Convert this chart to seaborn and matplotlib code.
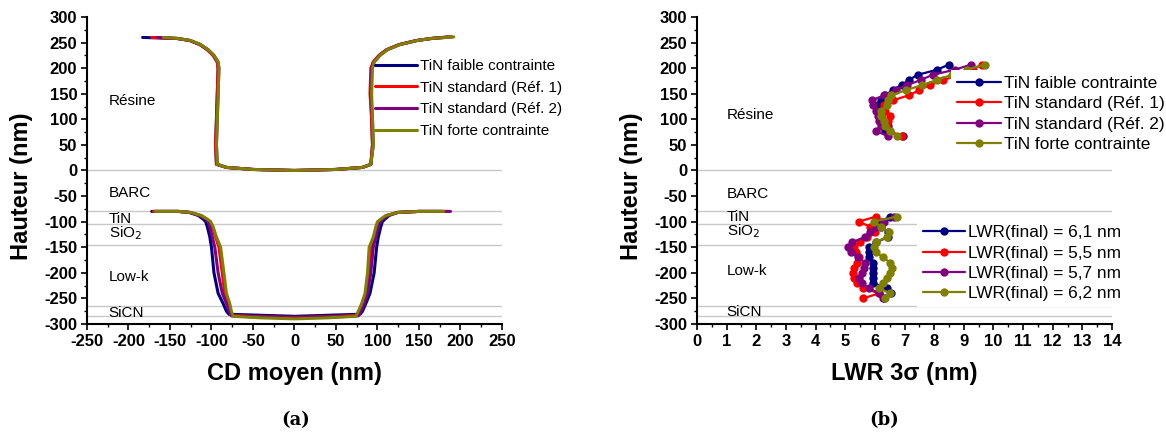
import matplotlib
matplotlib.use("Agg")
import matplotlib.pyplot as plt
import seaborn as sns
import pandas as pd
from matplotlib.ticker import MultipleLocator

# series names / colours
series = ["TiN faible contrainte", "TiN standard (Réf. 1)", "TiN standard (Réf. 2)", "TiN forte contrainte"]
colors = ["#000080", "#FF0000", "#800080", "#808000"]
lwr_labels = ["LWR(final) = 6,1 nm", "LWR(final) = 5,5 nm", "LWR(final) = 5,7 nm", "LWR(final) = 6,2 nm"]

# (a) resist profile (top) - shared heights
top_y = [260, 258, 254, 246, 236, 225, 212, 200, 150, 100, 50, 12, 6, 2, 0, 2, 6, 12, 50, 100, 150, 200, 212, 225, 236, 246, 254, 258, 261]
blue_top_x = [-183, -142, -126, -114, -105, -98, -93, -92, -93, -94, -95, -94, -82, -50, 0, 50, 82, 92, 94, 93, 92, 93, 95, 102, 111, 126, 147, 165, 185]
red_top_x = [-172, -141, -126, -114, -105, -98, -93, -92, -93, -94, -95, -94, -82, -50, 0, 50, 82, 92, 94, 93, 91, 92, 95, 102, 111, 126, 147, 165, 188]
purple_top_x = [-165, -141, -126, -113, -104, -97, -92, -91, -92, -93, -94, -93, -82, -50, 0, 50, 82, 92, 95, 94, 92, 93, 96, 103, 112, 127, 148, 165, 190]
olive_top_x = [-158, -140, -125, -113, -104, -97, -92, -91, -92, -93, -94, -93, -82, -50, 0, 50, 82, 92, 95, 94, 93, 94, 96, 103, 112, 127, 148, 165, 192]

# (a) profile after etch (bottom)
blue_bot_x = [-172, -140, -127, -116, -110, -107, -105, -102, -100, -97, -92, -86, -82, -79, -40, 0, 40, 79, 82, 86, 91, 96, 99, 101, 104, 106, 109, 114, 124, 150, 178]
blue_bot_y = [-80, -80, -82, -88, -95, -100, -110, -130, -150, -200, -240, -260, -275, -281, -283, -285, -283, -281, -275, -260, -240, -200, -150, -130, -110, -100, -95, -88, -82, -80, -80]
red_bot_x = [-170, -140, -126, -113, -106, -102, -99, -95, -91, -87, -84, -80, -77, -75, -40, 0, 40, 75, 78, 82, 86, 89, 92, 96, 99, 102, 105, 111, 124, 150, 182]
red_bot_y = [-80, -80, -82, -88, -95, -100, -110, -130, -150, -200, -240, -260, -275, -283, -286, -287, -286, -283, -275, -260, -240, -200, -150, -130, -110, -100, -95, -88, -82, -80, -80]
purple_bot_x = [-168, -140, -126, -114, -107, -104, -102, -99, -96, -92, -87, -82, -79, -76, -40, 0, 40, 77, 80, 84, 88, 92, 95, 98, 101, 103, 106, 112, 125, 150, 188]
purple_bot_y = [-80, -80, -82, -88, -95, -100, -110, -130, -150, -200, -240, -260, -275, -284, -287, -288, -287, -284, -275, -260, -240, -200, -150, -130, -110, -100, -95, -88, -82, -80, -80]
olive_bot_x = [-168, -140, -125, -112, -105, -101, -98, -94, -89, -85, -82, -78, -76, -74, -40, 0, 40, 74, 77, 81, 85, 88, 90, 95, 98, 100, 104, 110, 125, 150, 180]
olive_bot_y = [-80, -80, -82, -88, -95, -100, -110, -130, -150, -200, -240, -260, -275, -285, -288, -290, -288, -285, -275, -260, -240, -200, -150, -130, -110, -100, -95, -88, -82, -80, -80]

# (b) LWR vs height
lwr_top_y = [207, 197, 187, 177, 167, 157, 147, 137, 127, 117, 107, 97, 87, 77, 67]
blue_lwr_top = [8.5, 8.1, 7.45, 7.15, 6.9, 6.6, 6.35, 6.2, 6.1, 6.15, 6.2, 6.3, 6.45, 6.35, 6.95]
red_lwr_top = [9.6, 9.3, 8.9, 8.3, 7.85, 7.5, 7.15, 6.6, 6.3, 6.35, 6.5, 6.45, 6.4, 6.5, 6.9]
purple_lwr_top = [9.25, 8.7, 7.95, 7.55, 7.1, 6.7, 6.3, 5.9, 5.95, 6.05, 6.1, 6.15, 6.2, 6.05, 6.45]
olive_lwr_top = [9.7, 9.1, 8.6, 8.1, 7.6, 7.05, 6.55, 6.45, 6.4, 6.2, 6.2, 6.3, 6.35, 6.5, 6.75]

lwr_bot_y = [-90, -100, -110, -120, -130, -140, -150, -160, -170, -180, -190, -200, -210, -220, -230, -240, -250]
blue_lwr_bot = [6.5, 6.2, 6.2, 6.45, 6.45, 6.05, 5.8, 5.8, 5.8, 5.95, 5.95, 5.95, 5.95, 5.95, 6.4, 6.55, 6.3]
red_lwr_bot = [6.05, 5.45, 5.85, 6.0, 5.75, 5.5, 5.3, 5.35, 5.45, 5.4, 5.3, 5.25, 5.3, 5.4, 5.6, 6.15, 5.6]
purple_lwr_bot = [6.65, 6.3, 6.03, 5.85, 5.67, 5.24, 5.1, 5.18, 5.42, 5.67, 5.63, 5.55, 5.45, 5.55, 5.79, 6.15, 6.28]
olive_lwr_bot = [6.75, 5.97, 6.21, 6.46, 6.40, 6.03, 5.97, 6.03, 6.28, 6.52, 6.58, 6.52, 6.40, 6.28, 6.15, 6.52, 6.34]

# layer boundaries and names
layer_lines = [0, -80, -105, -145, -265, -285]
layer_names = ["Résine", "BARC", "TiN", "SiO$_2$", "Low-k", "SiCN"]
layer_y_a = [136, -44, -95, -122, -209, -278]
layer_y_b = [109, -46, -91, -119, -196, -276]

top_x = [blue_top_x, red_top_x, purple_top_x, olive_top_x]
bot_x = [blue_bot_x, red_bot_x, purple_bot_x, olive_bot_x]
bot_y = [blue_bot_y, red_bot_y, purple_bot_y, olive_bot_y]
lwr_top = [blue_lwr_top, red_lwr_top, purple_lwr_top, olive_lwr_top]
lwr_bot = [blue_lwr_bot, red_lwr_bot, purple_lwr_bot, olive_lwr_bot]

sns.set_style("ticks", {"axes.edgecolor": "black", "text.color": "black",
                        "xtick.color": "black", "ytick.color": "black", "axes.labelcolor": "black"})
plt.rcParams["font.family"] = ["Liberation Sans", "DejaVu Sans"]
plt.rcParams["axes.unicode_minus"] = False

fig = plt.figure(figsize=(11.66, 4.34), dpi=100)
ax1 = fig.add_axes([0.0746, 0.2535, 0.3559, 0.7074])
ax2 = fig.add_axes([0.5978, 0.2535, 0.3559, 0.7074])

for ax in [ax1, ax2]:
    for yl in layer_lines:
        ax.axhline(yl, color="#c8c8c8", lw=1.0, zorder=0)

# panel (a)
for i in range(4):
    sns.lineplot(x=top_x[i], y=top_y, sort=False, estimator=None, color=colors[i], lw=2.2, label=series[i], ax=ax1)
    sns.lineplot(x=bot_x[i], y=bot_y[i], sort=False, estimator=None, color=colors[i], lw=2.2, ax=ax1)
ax1.set_xlim(-250, 250)
ax1.set_ylim(-300, 300)
ax1.xaxis.set_major_locator(MultipleLocator(50))
ax1.xaxis.set_minor_locator(MultipleLocator(25))
ax1.set_xlabel("CD moyen (nm)", fontsize=17, fontweight="bold")
for name, yv in zip(layer_names, layer_y_a):
    ax1.text(-224, yv, name, fontsize=11, va="center", ha="left", color="black")
ax1.legend(loc="center left", bbox_to_anchor=(0.68, 0.7345), frameon=False, fontsize=11,
           handlelength=2.7, handletextpad=0.2, borderaxespad=0)

# panel (b)
h_top = []
h_bot = []
for i in range(4):
    sns.lineplot(x=lwr_top[i], y=lwr_top_y, sort=False, estimator=None, color=colors[i], lw=1.6,
                 marker="o", markersize=6, markeredgewidth=0, ax=ax2)
    h_top.append(ax2.lines[-1])
for i in range(4):
    sns.lineplot(x=lwr_bot[i], y=lwr_bot_y, sort=False, estimator=None, color=colors[i], lw=1.6,
                 marker="o", markersize=6, markeredgewidth=0, ax=ax2)
    h_bot.append(ax2.lines[-1])
ax2.set_xlim(0, 14)
ax2.set_ylim(-300, 300)
ax2.xaxis.set_major_locator(MultipleLocator(1))
ax2.xaxis.set_minor_locator(MultipleLocator(0.5))
ax2.set_xlabel("LWR 3σ (nm)", fontsize=17, fontweight="bold")
for name, yv in zip(layer_names, layer_y_b):
    ax2.text(1.0, yv, name, fontsize=11, va="center", ha="left", color="black")
leg_top = ax2.legend(h_top, series, loc="center left", bbox_to_anchor=(0.613, 0.684), fontsize=12.4,
                     handlelength=2.5, handletextpad=0.2, borderaxespad=0, frameon=True, borderpad=0.35,
                     labelspacing=0.3, facecolor="white", edgecolor="none", framealpha=1, fancybox=False)
ax2.add_artist(leg_top)
ax2.legend(h_bot, lwr_labels, loc="center left", bbox_to_anchor=(0.531, 0.198), fontsize=12.4,
           handlelength=2.4, handletextpad=0.2, borderaxespad=0, frameon=True, borderpad=0.35,
           labelspacing=0.3, facecolor="white", edgecolor="none", framealpha=1, fancybox=False)

for ax in [ax1, ax2]:
    ax.yaxis.set_major_locator(MultipleLocator(50))
    ax.yaxis.set_minor_locator(MultipleLocator(25))
    ax.set_ylabel("Hauteur (nm)", fontsize=17, fontweight="bold")
    ax.yaxis.set_label_coords(-0.130, 0.45)
    ax.xaxis.set_label_coords(0.5, -0.124)
    sns.despine(ax=ax)
    ax.spines["left"].set_linewidth(1.5)
    ax.spines["bottom"].set_linewidth(1.5)
    ax.tick_params(which="major", direction="out", length=4, width=1.2, labelsize=12, pad=3)
    ax.tick_params(which="minor", direction="out", length=2.2, width=1.0)
    for lab in ax.get_xticklabels() + ax.get_yticklabels():
        lab.set_fontweight("bold")

fig.text(296 / 1166, 1 - 420 / 434, "(a)", fontsize=13, fontweight="bold", family="DejaVu Serif", ha="center", va="center")
fig.text(884 / 1166, 1 - 420 / 434, "(b)", fontsize=13, fontweight="bold", family="DejaVu Serif", ha="center", va="center")

fig.savefig("out.png", dpi=100)
